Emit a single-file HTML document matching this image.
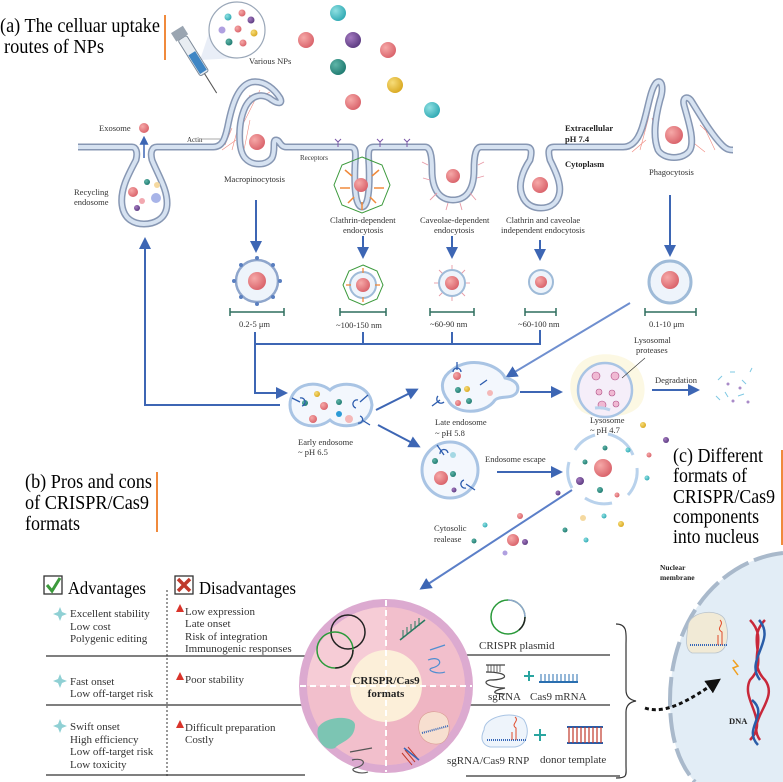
<!DOCTYPE html>
<html><head><meta charset="utf-8"><style>
html,body{margin:0;padding:0;background:#fff;overflow:hidden;width:783px;height:782px;}
svg{display:block;font-family:"Liberation Serif",serif;}
.s{font-size:8.5px;fill:#333;}
.t{font-size:11px;fill:#333;}
.b{font-weight:bold;}
</style></head><body>
<svg width="783" height="782" viewBox="0 0 783 782" xmlns="http://www.w3.org/2000/svg" overflow="hidden">
<defs>
<clipPath id="vp"><rect x="0" y="0" width="783" height="782"/></clipPath>
<radialGradient id="pk" cx="0.35" cy="0.35" r="0.7"><stop offset="0" stop-color="#f6a9a8"/><stop offset="1" stop-color="#d9626a"/></radialGradient>
<radialGradient id="tl" cx="0.35" cy="0.35" r="0.7"><stop offset="0" stop-color="#8fe0e2"/><stop offset="1" stop-color="#2fa9b3"/></radialGradient>
<radialGradient id="pu" cx="0.35" cy="0.35" r="0.7"><stop offset="0" stop-color="#a47ac0"/><stop offset="1" stop-color="#5b3a80"/></radialGradient>
<radialGradient id="dt" cx="0.35" cy="0.35" r="0.7"><stop offset="0" stop-color="#5fb5a8"/><stop offset="1" stop-color="#1f7a70"/></radialGradient>
<radialGradient id="yl" cx="0.35" cy="0.35" r="0.7"><stop offset="0" stop-color="#f7dd7a"/><stop offset="1" stop-color="#d9a820"/></radialGradient>
<marker id="ar" markerWidth="6" markerHeight="6" refX="4.5" refY="3" orient="auto" markerUnits="strokeWidth"><path d="M0,0 L6,3 L0,6 Z" fill="#3d66b4"/></marker>
<marker id="ak" markerWidth="5" markerHeight="5" refX="3" refY="2.5" orient="auto" markerUnits="strokeWidth"><path d="M0,0 L5,2.5 L0,5 Z" fill="#111"/></marker>
<path id="mem" d="M78,147 L132,147 C136,147 138,152 136,160 C128,175 120,190 122,205 C124,220 135,224 144,224 C153,224 166,220 167,205 C168,190 158,175 152,160 C150,152 152,147 157,147 L213,147 C222,147 225,140 228,125 C232,105 238,85 252,82 C265,80 275,90 280,98 C283,104 278,104 272,100 C262,92 250,95 244,110 C238,125 238,150 245,158 C252,166 266,166 272,158 C276,150 272,140 276,140 C280,140 280,147 286,147 L350,147 C356,147 356,152 355,165 C354,190 356,207 362,207 C368,207 370,190 369,165 C368,152 368,147 374,147 L425,147 C430,147 432,155 432,170 C432,190 440,200 453,200 C466,200 474,190 474,170 C474,155 476,147 481,147 L526,147 C532,147 532,152 530,160 C522,172 518,185 522,195 C526,206 535,208 541,208 C547,208 556,206 559,195 C562,185 556,172 550,160 C548,152 548,147 554,147 L623,147 C632,147 638,140 642,128 C648,110 650,90 656,83 C662,78 664,88 660,100 C656,115 652,135 658,150 C664,160 684,160 690,150 C695,140 688,120 684,105 C682,97 688,95 692,102 C700,115 712,135 722,145 C727,150 730,150 733,150"/>
</defs>

<text x="0" y="32" font-size="20" textLength="160" lengthAdjust="spacingAndGlyphs">(a) The celluar uptake</text>
<text x="4" y="53" font-size="20" textLength="100" lengthAdjust="spacingAndGlyphs">routes of NPs</text>
<rect x="164" y="15" width="2" height="45" fill="#f08a3c"/>

<path d="M200,60 L210,30 L265,30 L237,58 Z" fill="#dfe7f3" opacity="0.7"/>
<circle cx="237" cy="30" r="28" fill="#fff" stroke="#9aa7b8" stroke-width="1.2"/>
<circle cx="228" cy="17" r="3.5" fill="url(#tl)"/><circle cx="242" cy="13" r="3.5" fill="url(#pk)"/><circle cx="251" cy="20" r="3.5" fill="url(#pu)"/>
<circle cx="222" cy="30" r="3.5" fill="#b0a0e0"/><circle cx="238" cy="29" r="3.5" fill="url(#pk)"/><circle cx="254" cy="33" r="3.5" fill="url(#yl)"/>
<circle cx="229" cy="42" r="3.5" fill="url(#dt)"/><circle cx="243" cy="43" r="3.5" fill="url(#pk)"/>
<g transform="rotate(58 196 60)"><rect x="170" y="55" width="42" height="10" rx="2" fill="#e8edf2" stroke="#7d8a99"/><rect x="188" y="56" width="22" height="8" fill="#3f86c4"/><rect x="160" y="53" width="10" height="14" fill="#9aa5b1"/><line x1="212" y1="60" x2="235" y2="60" stroke="#555" stroke-width="1"/></g>
<text x="249" y="64" class="s">Various NPs</text>

<circle cx="338" cy="13" r="8" fill="url(#tl)"/><circle cx="306" cy="40" r="8" fill="url(#pk)"/><circle cx="353" cy="40" r="8" fill="url(#pu)"/>
<circle cx="388" cy="50" r="8" fill="url(#pk)"/><circle cx="338" cy="67" r="8" fill="url(#dt)"/><circle cx="395" cy="85" r="8" fill="url(#yl)"/>
<circle cx="353" cy="102" r="8" fill="url(#pk)"/><circle cx="432" cy="110" r="8" fill="url(#tl)"/>

<g stroke="#f08a80" stroke-width="0.6" fill="none">
<path d="M232,150 L240,120 L250,95 M236,140 L222,150 M240,130 L260,90 M245,105 L270,92 M232,128 L225,145 M250,120 L244,150"/>
<path d="M640,150 L648,120 L654,92 M646,140 L632,152 M652,118 L660,150 M696,110 L715,150 M700,125 L726,150 M690,140 L705,152 M708,130 L720,140"/>
</g>

<use href="#mem" fill="none" stroke="#8797b3" stroke-width="7" stroke-linejoin="round"/>
<use href="#mem" fill="none" stroke="#d6e2f1" stroke-width="4" stroke-linejoin="round"/>

<polygon points="362,157 382,165 390,185 382,205 362,213 342,205 334,185 342,165" fill="none" stroke="#3c9a3c" stroke-width="1"/>
<g stroke="#f08a3c" stroke-width="1.5"><line x1="345" y1="170" x2="352" y2="176"/><line x1="379" y1="170" x2="372" y2="176"/><line x1="340" y1="188" x2="350" y2="188"/><line x1="384" y1="188" x2="374" y2="188"/><line x1="362" y1="210" x2="362" y2="202"/><line x1="348" y1="203" x2="354" y2="197"/><line x1="376" y1="203" x2="370" y2="197"/></g>
<g stroke="#e79aa6" stroke-width="0.9"><line x1="428" y1="165" x2="422" y2="162"/><line x1="430" y1="180" x2="423" y2="178"/><line x1="437" y1="193" x2="430" y2="200"/><line x1="448" y1="203" x2="446" y2="210"/><line x1="460" y1="203" x2="462" y2="210"/><line x1="470" y1="193" x2="476" y2="200"/><line x1="477" y1="178" x2="484" y2="176"/><line x1="478" y1="165" x2="484" y2="162"/></g>
<g stroke="#7b58a8" stroke-width="1" fill="none"><path d="M338,142 L338,147 M335,139 L338,142 L341,139 M380,142 L380,147 M377,139 L380,142 L383,139 M407,142 L407,147 M404,139 L407,142 L410,139"/></g>

<circle cx="144" cy="128" r="5" fill="url(#pk)"/>
<line x1="144" y1="158" x2="144" y2="138" stroke="#3d66b4" stroke-width="1.5" marker-end="url(#ar)"/>
<text x="99" y="131" class="s">Exosome</text>
<circle cx="133" cy="192" r="5" fill="url(#pk)"/><circle cx="147" cy="182" r="3" fill="url(#dt)"/><circle cx="157" cy="185" r="3" fill="#f5d9a0"/><circle cx="156" cy="198" r="5" fill="#a8b4e8"/><circle cx="142" cy="201" r="3" fill="#f2a8b0"/><circle cx="137" cy="208" r="3" fill="url(#pu)"/>
<text x="74" y="195" class="s">Recycling</text><text x="74" y="205" class="s">endosome</text>
<text x="187" y="142" font-size="7" fill="#333">Actin</text><line x1="202" y1="139" x2="220" y2="139" stroke="#555" stroke-width="0.6"/>
<circle cx="257" cy="142" r="8" fill="url(#pk)"/>
<text x="224" y="182" class="s">Macropinocytosis</text>
<text x="300" y="160" font-size="7" fill="#333">Receptors</text>
<circle cx="361" cy="185" r="7" fill="url(#pk)"/>
<circle cx="453" cy="176" r="7" fill="url(#pk)"/>
<circle cx="540" cy="185" r="8" fill="url(#pk)"/>
<circle cx="674" cy="135" r="9" fill="url(#pk)"/>
<text x="565" y="131" font-size="8.5" class="b" fill="#222">Extracellular</text>
<text x="565" y="142" font-size="8.5" class="b" fill="#222">pH 7.4</text>
<text x="565" y="167" font-size="8.5" class="b" fill="#222">Cytoplasm</text>
<text x="649" y="175" class="s">Phagocytosis</text>
<text x="330" y="223" class="s">Clathrin-dependent</text><text x="343" y="233" class="s">endocytosis</text>
<text x="420" y="223" class="s">Caveolae-dependent</text><text x="434" y="233" class="s">endocytosis</text>
<text x="506" y="223" class="s">Clathrin and caveolae</text><text x="501" y="233" class="s">independent endocytosis</text>

<g stroke="#3d66b4" stroke-width="2" fill="none">
<line x1="256" y1="200" x2="256" y2="250" marker-end="url(#ar)"/>
<line x1="363" y1="236" x2="363" y2="256" marker-end="url(#ar)"/>
<line x1="452" y1="236" x2="452" y2="256" marker-end="url(#ar)"/>
<line x1="540" y1="240" x2="540" y2="258" marker-end="url(#ar)"/>
<line x1="670" y1="195" x2="670" y2="254" marker-end="url(#ar)"/>
</g>

<circle cx="257" cy="281" r="21" fill="#eef4fb" stroke="#8fa6cc" stroke-width="2.5"/><circle cx="257" cy="281" r="9" fill="url(#pk)"/>
<g fill="#5a7fc0"><circle cx="257" cy="258" r="2"/><circle cx="257" cy="304" r="2"/><circle cx="234" cy="281" r="2"/><circle cx="280" cy="281" r="2"/><circle cx="241" cy="265" r="2"/><circle cx="273" cy="265" r="2"/><circle cx="241" cy="297" r="2"/><circle cx="273" cy="297" r="2"/></g>
<polygon points="363,265 377,271 383,285 377,299 363,305 349,299 343,285 349,271" fill="none" stroke="#3c9a3c" stroke-width="1"/>
<circle cx="363" cy="285" r="13" fill="#eef4fb" stroke="#9fbbd8" stroke-width="2"/><circle cx="363" cy="285" r="7" fill="url(#pk)"/>
<g stroke="#f08a3c" stroke-width="1.3"><line x1="363" y1="268" x2="363" y2="273"/><line x1="363" y1="302" x2="363" y2="297"/><line x1="346" y1="285" x2="351" y2="285"/><line x1="380" y1="285" x2="375" y2="285"/></g>
<g stroke="#e79aa6" stroke-width="0.9"><line x1="452" y1="265" x2="452" y2="270"/><line x1="452" y1="301" x2="452" y2="296"/><line x1="434" y1="283" x2="439" y2="283"/><line x1="470" y1="283" x2="465" y2="283"/><line x1="439" y1="270" x2="443" y2="274"/><line x1="465" y1="270" x2="461" y2="274"/><line x1="439" y1="296" x2="443" y2="292"/><line x1="465" y1="296" x2="461" y2="292"/></g>
<circle cx="452" cy="283" r="13" fill="#eef4fb" stroke="#9fbbd8" stroke-width="2"/><circle cx="452" cy="283" r="7" fill="url(#pk)"/>
<circle cx="541" cy="282" r="12" fill="#eef4fb" stroke="#9fbbd8" stroke-width="2"/><circle cx="541" cy="282" r="6" fill="url(#pk)"/>
<circle cx="670" cy="282" r="21" fill="#eef4fb" stroke="#9fbbd8" stroke-width="3"/><circle cx="670" cy="280" r="9" fill="url(#pk)"/>

<g stroke="#2f6f5f" stroke-width="1.5"><path d="M230,312 H284 M230,308 V316 M284,308 V316"/><path d="M340,312 H386 M340,308 V316 M386,308 V316"/><path d="M430,312 H474 M430,308 V316 M474,308 V316"/><path d="M525,312 H556 M525,308 V316 M556,308 V316"/><path d="M645,312 H696 M645,308 V316 M696,308 V316"/></g>
<text x="239" y="327" class="s">0.2-5 μm</text><text x="336" y="328" class="s">~100-150 nm</text><text x="430" y="327" class="s">~60-90 nm</text><text x="518" y="327" class="s">~60-100 nm</text><text x="649" y="327" class="s">0.1-10 μm</text>

<g stroke="#3d66b4" stroke-width="2" fill="none">
<path d="M255,332 V344 H540 V330 M363,332 V344 M452,332 V344"/>
<path d="M255,344 V393 H285" marker-end="url(#ar)"/>
<path d="M280,405 H145 V240" marker-end="url(#ar)"/>
<line x1="630" y1="303" x2="508" y2="376" stroke="#6f8fcf" marker-end="url(#ar)"/>
<line x1="376" y1="410" x2="416" y2="390" marker-end="url(#ar)"/>
<line x1="378" y1="425" x2="418" y2="446" marker-end="url(#ar)"/>
<line x1="520" y1="392" x2="560" y2="392" marker-end="url(#ar)"/>
<line x1="652" y1="390" x2="697" y2="390" marker-end="url(#ar)"/>
<line x1="497" y1="472" x2="560" y2="472" marker-end="url(#ar)"/>
<line x1="572" y1="490" x2="422" y2="588" stroke="#5b7fc8" marker-end="url(#ar)"/>
</g>

<path d="M290,405 C290,385 315,378 330,390 C340,380 370,382 372,405 C370,428 340,430 330,420 C315,432 290,425 290,405 Z" fill="#f3f7fd" stroke="#a9c4e4" stroke-width="3"/>
<circle cx="317" cy="394" r="3" fill="url(#yl)"/><circle cx="305" cy="403" r="3" fill="url(#dt)"/><circle cx="324" cy="406" r="4" fill="url(#pk)"/><circle cx="313" cy="419" r="4" fill="url(#pk)"/><circle cx="339" cy="402" r="3" fill="url(#dt)"/><circle cx="339" cy="414" r="3" fill="#2b9ad6"/><circle cx="349" cy="419" r="4" fill="#f4b8b8"/>
<g stroke="#2c5cae" stroke-width="1.3" fill="none"><path d="M292,398 L300,402 M300,398 A3,3 0 1,1 302,406"/><path d="M368,395 L360,402 M358,400 A3,3 0 1,0 356,408"/><path d="M370,425 L362,420 M360,416 A3,3 0 1,1 358,423"/></g>
<text x="298" y="445" class="s">Early endosome</text><text x="298" y="455" class="s">~ pH 6.5</text>

<path d="M452,370 C470,355 500,365 505,378 C515,380 520,385 517,392 C512,400 500,395 495,400 C485,415 455,415 448,400 C440,390 440,378 452,370 Z" fill="#f3f7fd" stroke="#a9c4e4" stroke-width="3"/>
<circle cx="458" cy="390" r="3" fill="url(#dt)"/><circle cx="458" cy="403" r="3" fill="url(#pk)"/><circle cx="457" cy="376" r="4" fill="url(#pk)"/><circle cx="467" cy="389" r="3" fill="url(#yl)"/><circle cx="469" cy="401" r="3" fill="url(#dt)"/><circle cx="490" cy="393" r="3" fill="#f4b8b8"/>
<g stroke="#2c5cae" stroke-width="1.3" fill="none"><path d="M457,362 V370 M453,372 A4,4 0 0,1 461,372"/><path d="M432,406 L440,400 M438,396 A3,3 0 1,0 444,402"/><path d="M487,380 L480,385"/></g>
<text x="435" y="425" class="s">Late endosome</text><text x="435" y="436" class="s">~ pH 5.8</text>

<path d="M575,370 C585,350 620,350 635,365 C645,375 648,395 640,405 C630,420 590,420 580,410 C568,398 568,380 575,370Z" fill="#fbf6dc" opacity="0.8"/>
<circle cx="605" cy="390" r="27" fill="#f5eef9" stroke="#a9c4e4" stroke-width="2.5"/>
<g fill="#f0b9d3" stroke="#b04f86" stroke-width="0.6"><circle cx="596" cy="376" r="4"/><circle cx="615" cy="376" r="4"/><circle cx="599" cy="392" r="3"/><circle cx="612" cy="393" r="3"/><circle cx="602" cy="405" r="4"/><circle cx="616" cy="404" r="3"/></g>
<line x1="622" y1="378" x2="645" y2="358" stroke="#333" stroke-width="0.6"/>
<text x="634" y="343" class="s">Lysosomal</text><text x="636" y="353" class="s">proteases</text>
<text x="590" y="423" class="s">Lysosome</text><text x="590" y="433" class="s">~ pH 4.7</text>
<text x="655" y="383" class="s">Degradation</text>
<g stroke="#7ec8e3" stroke-width="1"><line x1="718" y1="380" x2="722" y2="376"/><line x1="730" y1="372" x2="735" y2="372"/><line x1="742" y1="380" x2="746" y2="384"/><line x1="725" y1="392" x2="728" y2="397"/><line x1="738" y1="396" x2="744" y2="394"/><line x1="750" y1="372" x2="752" y2="368"/><line x1="716" y1="396" x2="720" y2="400"/></g>
<g fill="#a98bc8"><circle cx="728" cy="384" r="1.5"/><circle cx="740" cy="388" r="1.5"/><circle cx="733" cy="401" r="1.5"/><circle cx="748" cy="402" r="1.5"/></g>

<circle cx="450" cy="470" r="28" fill="#f3f7fd" stroke="#a9c4e4" stroke-width="3"/>
<circle cx="441" cy="478" r="7" fill="url(#pk)"/><circle cx="453" cy="474" r="3" fill="url(#dt)"/><circle cx="435" cy="461" r="3" fill="url(#dt)"/><circle cx="453" cy="455" r="3" fill="#a5d8e4"/><circle cx="454" cy="490" r="2.5" fill="url(#pu)"/>
<g stroke="#2c5cae" stroke-width="1.3" fill="none"><path d="M437,445 L444,455 M440,454 A4,4 0 0,1 448,453"/><path d="M475,490 L466,484 M464,480 A3,3 0 1,0 466,488"/></g>
<text x="485" y="462" class="s">Endosome escape</text>

<g stroke="#b9d2ec" stroke-width="3" fill="none"><path d="M575,450 A35,35 0 0,1 595,435"/><path d="M608,434 A35,35 0 0,1 633,455"/><path d="M637,468 A35,35 0 0,1 628,495"/><path d="M612,503 A35,35 0 0,1 585,498"/><path d="M572,488 A35,35 0 0,1 569,462"/><path d="M595,408 A30,30 0 0,1 610,410"/></g>
<circle cx="603" cy="468" r="9" fill="url(#pk)"/>
<circle cx="585" cy="462" r="2.5" fill="url(#dt)"/><circle cx="605" cy="448" r="2.5" fill="url(#dt)"/><circle cx="580" cy="481" r="4" fill="url(#pu)"/><circle cx="600" cy="490" r="3" fill="url(#dt)"/><circle cx="617" cy="495" r="2.5" fill="url(#pk)"/>
<circle cx="628" cy="450" r="2.5" fill="url(#tl)"/><circle cx="643" cy="425" r="3" fill="url(#yl)"/><circle cx="666" cy="440" r="3" fill="url(#pu)"/><circle cx="649" cy="455" r="2.5" fill="url(#pk)"/><circle cx="647" cy="478" r="2.5" fill="url(#tl)"/><circle cx="558" cy="493" r="2.5" fill="url(#pu)"/>
<circle cx="520" cy="516" r="3" fill="url(#pk)"/><circle cx="485" cy="525" r="2.5" fill="url(#tl)"/><circle cx="583" cy="518" r="3" fill="#f5d9a0"/><circle cx="604" cy="516" r="2.5" fill="url(#tl)"/><circle cx="621" cy="524" r="3" fill="url(#yl)"/><circle cx="565" cy="530" r="2.5" fill="url(#dt)"/><circle cx="513" cy="540" r="6" fill="url(#pk)"/><circle cx="525" cy="542" r="3" fill="url(#pu)"/><circle cx="474" cy="541" r="2.5" fill="url(#dt)"/><circle cx="505" cy="553" r="2.5" fill="#b0a0e0"/><circle cx="586" cy="540" r="2.5" fill="url(#tl)"/>
<text x="434" y="531" class="s">Cytosolic</text><text x="434" y="542" class="s">realease</text>

<text x="25" y="488" font-size="20" textLength="127" lengthAdjust="spacingAndGlyphs">(b) Pros and cons</text>
<text x="25" y="509" font-size="20" textLength="124" lengthAdjust="spacingAndGlyphs">of CRISPR/Cas9</text>
<text x="25" y="530" font-size="20" textLength="55" lengthAdjust="spacingAndGlyphs">formats</text>
<rect x="156" y="472" width="2" height="60" fill="#f08a3c"/>

<text x="673" y="462" font-size="20" textLength="90" lengthAdjust="spacingAndGlyphs">(c) Different</text>
<text x="673" y="482" font-size="20" textLength="74" lengthAdjust="spacingAndGlyphs">formats of</text>
<text x="673" y="503" font-size="20" textLength="102" lengthAdjust="spacingAndGlyphs">CRISPR/Cas9</text>
<text x="673" y="523" font-size="20" textLength="86" lengthAdjust="spacingAndGlyphs">components</text>
<text x="673" y="543" font-size="20" textLength="86" lengthAdjust="spacingAndGlyphs">into nucleus</text>
<rect x="781" y="450" width="2" height="95" fill="#f08a3c"/>

<g clip-path="url(#vp)">
<path d="M783,552 A150,150 0 0,0 783,782 Z" fill="none"/>
<path d="M783,553 C720,560 670,620 670,700 C670,740 680,765 695,782 L783,782 Z" fill="#e2edf6"/>
<path d="M783,553 C720,560 670,620 670,700 C670,740 680,765 695,782" fill="none" stroke="#a9b9cb" stroke-width="4" stroke-dasharray="30 6"/>
</g>
<text x="660" y="570" font-size="7.5" class="b" fill="#222">Nuclear</text><text x="660" y="580" font-size="7.5" class="b" fill="#222">membrane</text>
<path d="M688,626 C690,610 720,608 725,620 C730,635 728,652 715,653 L692,653 C685,650 686,640 688,626Z" fill="#f1ead6" stroke="#b9c3cc" stroke-width="0.8"/>
<line x1="690" y1="645" x2="728" y2="645" stroke="#3566b8" stroke-width="2" stroke-dasharray="1 1"/>
<path d="M718,645 V635 M722,645 V632 C715,628 725,625 720,620" stroke="#e04a2a" stroke-width="1" fill="none"/>
<path d="M750,620 C770,640 745,660 765,680 C780,700 745,720 760,740 M765,620 C745,640 770,660 750,680 C740,700 770,720 750,740" stroke="#c8283a" stroke-width="2.5" fill="none"/>
<path d="M759,620 C777,640 744,660 760,680" stroke="#2a5da8" stroke-width="2.5" fill="none"/>
<path d="M752,700 C770,715 742,728 758,745" stroke="#2a5da8" stroke-width="2.5" fill="none"/>
<path d="M733,660 L738,666 L733,668 L738,675" stroke="#f0a020" stroke-width="1.5" fill="none"/>
<text x="729" y="724" font-size="8.5" class="b" fill="#222">DNA</text>
<path d="M645,708 C665,715 690,700 716,682" stroke="#111" stroke-width="3" stroke-dasharray="4 3" fill="none" marker-end="url(#ak)"/>

<rect x="44" y="576" width="18" height="18" fill="#fff" stroke="#333" stroke-width="1.3"/>
<path d="M47,585 L52,591 L60,578" stroke="#3c9a3c" stroke-width="3" fill="none"/>
<text x="68" y="594" font-size="18" textLength="78" lengthAdjust="spacingAndGlyphs">Advantages</text>
<rect x="175" y="576" width="18" height="18" fill="#fff" stroke="#333" stroke-width="1.3"/>
<path d="M178,579 L190,591 M190,579 L178,591" stroke="#c0392b" stroke-width="3.5"/>
<text x="199" y="594" font-size="18" textLength="97" lengthAdjust="spacingAndGlyphs">Disadvantages</text>
<line x1="167" y1="590" x2="167" y2="776" stroke="#333" stroke-width="1" stroke-dasharray="2 2"/>
<g stroke="#333" stroke-width="1.3"><line x1="46" y1="656" x2="305" y2="656"/><line x1="46" y1="705" x2="305" y2="705"/><line x1="46" y1="775" x2="305" y2="775"/><line x1="466" y1="655" x2="610" y2="655"/><line x1="466" y1="705" x2="610" y2="705"/><line x1="466" y1="776" x2="620" y2="776"/></g>
<path d="M616,624 C628,624 626,634 626,645 L626,690 C626,697 630,700 636,701 C630,702 626,705 626,712 L626,765 C626,775 628,778 616,778" stroke="#333" stroke-width="1.2" fill="none"/>

<g fill="#8fd0d4"><path d="M60,607 L62,612 L67,614 L62,616 L60,621 L58,616 L53,614 L58,612Z"/><path d="M60,674 L62,679 L67,681 L62,683 L60,688 L58,683 L53,681 L58,679Z"/><path d="M60,719 L62,724 L67,726 L62,728 L60,733 L58,728 L53,726 L58,724Z"/></g>
<g fill="#d9342b"><path d="M176,612 L180,604 L184,612Z"/><path d="M176,680 L180,672 L184,680Z"/><path d="M176,728 L180,720 L184,728Z"/></g>
<text x="70" y="617" class="t">Excellent stability</text><text x="70" y="630" class="t">Low cost</text><text x="70" y="642" class="t">Polygenic editing</text>
<text x="185" y="615" class="t">Low expression</text><text x="185" y="627" class="t">Late onset</text><text x="185" y="640" class="t">Risk of integration</text><text x="185" y="652" class="t">Immunogenic responses</text>
<text x="70" y="685" class="t">Fast onset</text><text x="70" y="697" class="t">Low off-target risk</text>
<text x="185" y="683" class="t">Poor stability</text>
<text x="70" y="730" class="t">Swift onset</text><text x="70" y="743" class="t">High efficiency</text><text x="70" y="755" class="t">Low off-target risk</text><text x="70" y="768" class="t">Low toxicity</text>
<text x="185" y="731" class="t">Difficult preparation</text><text x="185" y="743" class="t">Costly</text>

<circle cx="386" cy="686" r="87" fill="#dcaad0"/>
<circle cx="386" cy="686" r="79" fill="#f2bfcc"/>
<path d="M386,686 L386,607 A79,79 0 0,0 307,686 Z" fill="#f6ccd6"/>
<path d="M386,686 L465,686 A79,79 0 0,1 386,765 Z" fill="#efb5c3"/>
<circle cx="386" cy="686" r="36" fill="#fcefd9"/>
<g stroke="#fff" stroke-width="2" stroke-dasharray="6 4"><line x1="386" y1="600" x2="386" y2="772"/><line x1="300" y1="686" x2="472" y2="686"/></g>
<text x="386" y="684" text-anchor="middle" font-size="11" class="b" fill="#222">CRISPR/Cas9</text>
<text x="386" y="697" text-anchor="middle" font-size="11" class="b" fill="#222">formats</text>
<circle cx="348" cy="632" r="17" fill="none" stroke="#222" stroke-width="1.5"/><circle cx="335" cy="650" r="18" fill="none" stroke="#2a9a3a" stroke-width="1.5"/>
<circle cx="335" cy="650" r="18" fill="none" stroke="#222" stroke-width="1.5" stroke-dasharray="28 200"/>
<g stroke="#2a7a60" stroke-width="1.5"><line x1="400" y1="640" x2="425" y2="620"/></g>
<g stroke="#2a7a60" stroke-width="1"><path d="M403,638 V630 M407,635 V627 M411,632 V624 M415,629 V621 M419,626 V618"/></g>
<path d="M430,650 L445,645 M428,660 C440,655 445,665 432,668 C425,670 438,675 445,672" stroke="#4f8ed0" stroke-width="1.2" fill="none"/>
<path d="M318,728 C325,715 355,715 355,725 C355,740 340,742 335,748 C325,752 315,740 318,728Z" fill="#7cc5b3"/>
<path d="M420,720 C425,708 445,710 448,720 C452,735 445,745 435,744 C422,743 416,732 420,720Z" fill="#f7dfd0" stroke="#d79a90" stroke-width="0.6"/>
<line x1="422" y1="733" x2="448" y2="726" stroke="#3566b8" stroke-width="2" stroke-dasharray="1 1"/>
<path d="M350,752 L372,748 M352,760 C365,757 368,765 355,768 C348,770 360,775 368,772" stroke="#555" stroke-width="1.2" fill="none"/>
<g stroke="#c0392b" stroke-width="1"><path d="M405,750 L415,762 M408,747 L418,759 M402,753 L412,765"/></g>
<path d="M404,748 L419,760" stroke="#3566b8" stroke-width="1.5"/>

<circle cx="508" cy="617" r="17" fill="none" stroke="#2a9a3a" stroke-width="1.5"/>
<path d="M508,600 A17,17 0 0,1 525,617" stroke="#8fa6cc" stroke-width="1.5" fill="none"/>
<path d="M525,617 A17,17 0 0,1 519,630" stroke="#222" stroke-width="1.5" fill="none"/>
<text x="479" y="649" class="t">CRISPR plasmid</text>
<path d="M486,665 H505 M486,672 C510,672 510,680 490,680 C480,682 490,688 505,688 C495,690 488,694 505,694" stroke="#444" stroke-width="1.2" fill="none"/>
<g stroke="#444" stroke-width="0.8"><path d="M488,665 V672 M491,665 V672 M494,665 V672 M497,665 V672 M500,665 V672"/></g>
<path d="M524,676 H534 M529,671 V681" stroke="#2aa5a0" stroke-width="2"/>
<line x1="539" y1="682" x2="578" y2="682" stroke="#2a6fb0" stroke-width="2"/>
<g stroke="#2a6fb0" stroke-width="1"><path d="M541,682 V674 M545,682 V674 M549,682 V674 M553,682 V674 M557,682 V674 M561,682 V674 M565,682 V674 M569,682 V674 M573,682 V674 M577,682 V674"/></g>
<text x="488" y="700" class="t">sgRNA</text><text x="530" y="700" class="t">Cas9 mRNA</text>
<path d="M484,730 C484,716 515,710 524,720 C530,730 528,745 515,747 L490,747 C482,745 480,738 484,730Z" fill="#eef4fb" stroke="#a9c4e4" stroke-width="1"/>
<line x1="487" y1="740" x2="527" y2="740" stroke="#3566b8" stroke-width="2" stroke-dasharray="1 1"/>
<path d="M512,740 V732 M516,740 V728 C510,724 520,721 515,717" stroke="#e04a2a" stroke-width="1" fill="none"/>
<path d="M534,735 H546 M540,729 V741" stroke="#2aa5a0" stroke-width="2"/>
<line x1="567" y1="727" x2="603" y2="727" stroke="#2a5da8" stroke-width="2"/><line x1="567" y1="743" x2="603" y2="743" stroke="#2a5da8" stroke-width="2"/>
<g stroke="#c0392b" stroke-width="1.2"><path d="M569,727 V743 M573,727 V743 M577,727 V743 M581,727 V743 M585,727 V743 M589,727 V743 M593,727 V743 M597,727 V743 M601,727 V743"/></g>
<text x="447" y="764" class="t">sgRNA/Cas9 RNP</text><text x="540" y="763" class="t">donor template</text>
</svg>
</body></html>
